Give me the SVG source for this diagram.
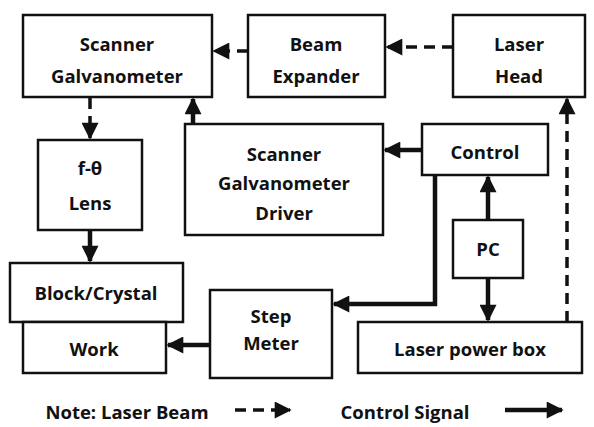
<svg xmlns="http://www.w3.org/2000/svg" width="594" height="427" viewBox="0 0 594 427">
<style>
.box{fill:#fff;stroke:#111;stroke-width:2.5}
.t{font-family:"Open Sans","Liberation Sans",sans-serif;font-weight:bold;font-size:18.5px;fill:#111;text-anchor:middle;dominant-baseline:central}
.dash{fill:none;stroke:#111;stroke-width:3.5;stroke-dasharray:11,7}
.solid{fill:none;stroke:#111;stroke-width:4.5}
</style>
<defs>
<marker id="ah" viewBox="0 0 10 10" refX="9" refY="5" markerWidth="18" markerHeight="17" orient="auto" markerUnits="userSpaceOnUse">
<path d="M0,0 L10,5 L0,10 Z" fill="#111"/>
</marker>
</defs>
<rect width="594" height="427" fill="#fff"/>
<g id="connectors">
<path class="dash" d="M248,51 H214" marker-end="url(#ah)"/>
<path class="dash" d="M453,47 H387" marker-end="url(#ah)"/>
<path class="dash" d="M90,98 V138" marker-end="url(#ah)"/>
<path class="solid" d="M90,231 V261" marker-end="url(#ah)"/>
<path class="solid" d="M193,124 V99" marker-end="url(#ah)"/>
<path class="solid" d="M422,150 H385" marker-end="url(#ah)"/>
<path class="solid" d="M488,220 V177" marker-end="url(#ah)"/>
<path class="solid" d="M488,278 V320" marker-end="url(#ah)"/>
<path class="dash" d="M567,322 V99" marker-end="url(#ah)"/>
<path class="solid" d="M435,175 V304 H334" marker-end="url(#ah)"/>
<path class="solid" d="M210,345 H168" marker-end="url(#ah)"/>
<path class="dash" d="M235,410 H290" marker-end="url(#ah)"/>
<path class="solid" d="M505,410 H562" marker-end="url(#ah)"/>
</g>
<g id="scanner"><rect class="box" x="23" y="15" width="189" height="82"/><text class="t" x="117" y="43">Scanner</text><text class="t" x="117" y="75">Galvanometer</text></g>
<g id="beam"><rect class="box" x="248" y="15" width="137" height="82"/><text class="t" x="316" y="43">Beam</text><text class="t" x="316" y="75">Expander</text></g>
<g id="laserhead"><rect class="box" x="453" y="15" width="132" height="82"/><text class="t" x="519" y="43">Laser</text><text class="t" x="519" y="75">Head</text></g>
<g id="lens"><rect class="box" x="38" y="140" width="104" height="90"/><text class="t" x="90" y="167">f-θ</text><text class="t" x="90" y="202">Lens</text></g>
<g id="driver"><rect class="box" x="185" y="124" width="198" height="111"/><text class="t" x="284" y="153">Scanner</text><text class="t" x="284" y="182">Galvanometer</text><text class="t" x="284" y="212">Driver</text></g>
<g id="control"><rect class="box" x="422" y="124" width="126" height="51"/><text class="t" x="485" y="151">Control</text></g>
<g id="pc"><rect class="box" x="453" y="220" width="70" height="58"/><text class="t" x="488" y="248">PC</text></g>
<g id="powerbox"><rect class="box" x="358" y="322" width="224" height="51"/><text class="t" x="470" y="348">Laser power box</text></g>
<g id="step"><rect class="box" x="210" y="290" width="122" height="88"/><text class="t" x="271" y="315">Step</text><text class="t" x="271" y="342">Meter</text></g>
<g id="block"><rect class="box" x="10" y="263" width="173" height="59"/><text class="t" x="96" y="292">Block/Crystal</text></g>
<g id="work"><rect class="box" x="23" y="322" width="143" height="51"/><text class="t" x="94" y="348">Work</text></g>
<g id="legend"><text class="t" x="127" y="411">Note: Laser Beam</text><text class="t" x="405" y="411">Control Signal</text></g>
</svg>
